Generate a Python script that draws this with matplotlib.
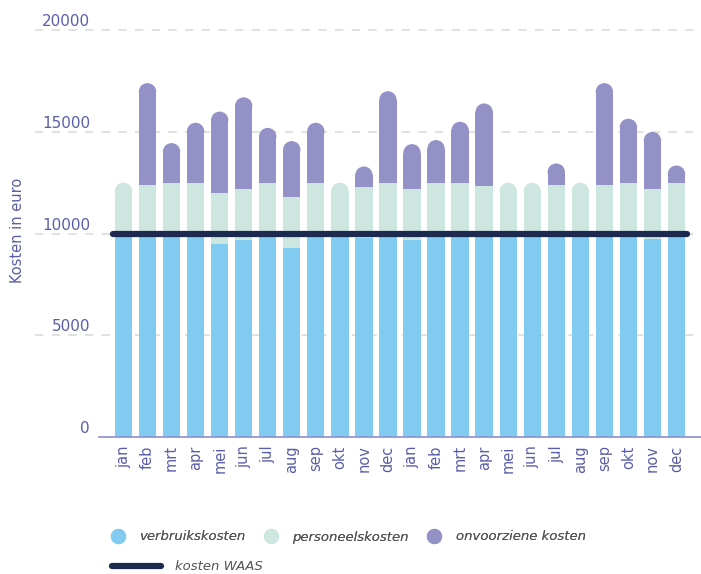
import numpy as np
import matplotlib
matplotlib.use('Agg')
import matplotlib.pyplot as plt
from matplotlib.patches import Ellipse
from matplotlib.lines import Line2D
from matplotlib.transforms import ScaledTranslation

# data
months = ['jan', 'feb', 'mrt', 'apr', 'mei', 'jun', 'jul', 'aug', 'sep', 'okt', 'nov', 'dec',
          'jan', 'feb', 'mrt', 'apr', 'mei', 'jun', 'jul', 'aug', 'sep', 'okt', 'nov', 'dec']
verbruik = [10000, 10000, 10000, 10000, 9500, 9700, 10000, 9300, 10000, 10000, 9800, 10000,
            9700, 10000, 10000, 10000, 10000, 10000, 10000, 10000, 10000, 10000, 9750, 10000]
personeel = [2500, 2400, 2500, 2500, 2500, 2500, 2500, 2500, 2500, 2500, 2500, 2500,
             2500, 2500, 2500, 2350, 2500, 2500, 2400, 2500, 2400, 2500, 2450, 2500]
onvoorzien = [0, 5000, 1950, 2950, 4000, 4500, 2700, 2750, 2950, 0, 1000, 4500,
              2200, 2100, 3000, 4050, 0, 0, 1050, 0, 5000, 3150, 2800, 850]
waas = 10000
yticks = [0, 5000, 10000, 15000, 20000]

c_verbruik = '#80cbef'
c_personeel = '#cde6e0'
c_onvoorzien = '#9391c6'
c_waas = '#1b2a4e'
c_text = '#5a5ea8'

plt.rcParams['font.family'] = ['DejaVu Sans']

fig = plt.figure(figsize=(7.01, 5.74), dpi=100)
ax = fig.add_axes([35/701, 137/574, 666/701, 421/574])

x = np.arange(len(months))
w = 0.72
ry = 418  # cap radius in data units

segs = [verbruik, personeel, onvoorzien]
cols = [c_verbruik, c_personeel, c_onvoorzien]
bottom = np.zeros(len(months))
for k, (vals, c) in enumerate(zip(segs, cols)):
    vals = np.array(vals, dtype=float)
    for i in range(len(months)):
        if vals[i] <= 0:
            continue
        is_top = all(segs[j][i] == 0 for j in range(k + 1, len(segs)))
        h = vals[i] - ry if is_top else vals[i]
        ax.bar(x[i], h, w, bottom=bottom[i], color=c, zorder=2, linewidth=0)
        if is_top:
            ax.add_patch(Ellipse((x[i], bottom[i] + h), w, 2 * ry, color=c, zorder=2, linewidth=0))
    bottom += vals

ax.plot([-0.45, len(months) - 0.55], [waas, waas], color=c_waas, lw=4.5,
        solid_capstyle='round', zorder=4)

ax.set_xlim(-3.68, 24.02)
ax.set_ylim(0, 20700)

for s in ['top', 'right', 'left']:
    ax.spines[s].set_visible(False)
ax.spines['bottom'].set_bounds(-1.02, 24.02)
ax.spines['bottom'].set_color('#8a8fd0')
ax.spines['bottom'].set_linewidth(1.2)

ax.set_xticks(x)
ax.set_xticklabels(months, rotation=90, fontsize=10.5, color=c_text)
ax.tick_params(axis='x', length=0, pad=6)

ax.set_yticks(yticks)
ax.set_yticklabels([str(v) for v in yticks], fontsize=11, color=c_text, ha='right')
ax.tick_params(axis='y', length=0, pad=0)
off = ScaledTranslation(55/100, 10/100, fig.dpi_scale_trans)
for lab in ax.get_yticklabels():
    lab.set_transform(lab.get_transform() + off)

ax.yaxis.grid(True, color='#dcdcdc', linestyle=(0, (5, 5)), linewidth=1.2, zorder=0)
ax.set_axisbelow(True)
ax.yaxis.get_gridlines()[0].set_visible(False)

fig.text(18/701, 1 - 230/574, 'Kosten in euro', rotation=90, fontsize=10.5,
         color=c_text, ha='center', va='center')

# legend
h1 = [Line2D([], [], marker='o', ls='', markersize=11, color=c, markeredgewidth=0)
      for c in cols]
leg1 = fig.legend(h1, ['verbruikskosten', 'personeelskosten', 'onvoorziene kosten'],
                  loc='center left', bbox_to_anchor=(111/701, 1 - 537/574), ncol=3,
                  frameon=False, handlelength=1, handletextpad=1.15, columnspacing=1.4,
                  borderpad=0, borderaxespad=0, labelcolor='#555555',
                  prop={'style': 'italic', 'size': 9.5})
h2 = [Line2D([], [], color=c_waas, lw=4.5, solid_capstyle='round')]
fig.legend(h2, ['kosten WAAS'], loc='center left', bbox_to_anchor=(112/701, 1 - 567/574),
           frameon=False, handlelength=3.7, handletextpad=1.1, borderpad=0,
           borderaxespad=0, labelcolor='#555555', prop={'style': 'italic', 'size': 9.5})
fig.add_artist(leg1)

fig.savefig('out.png', dpi=100)
